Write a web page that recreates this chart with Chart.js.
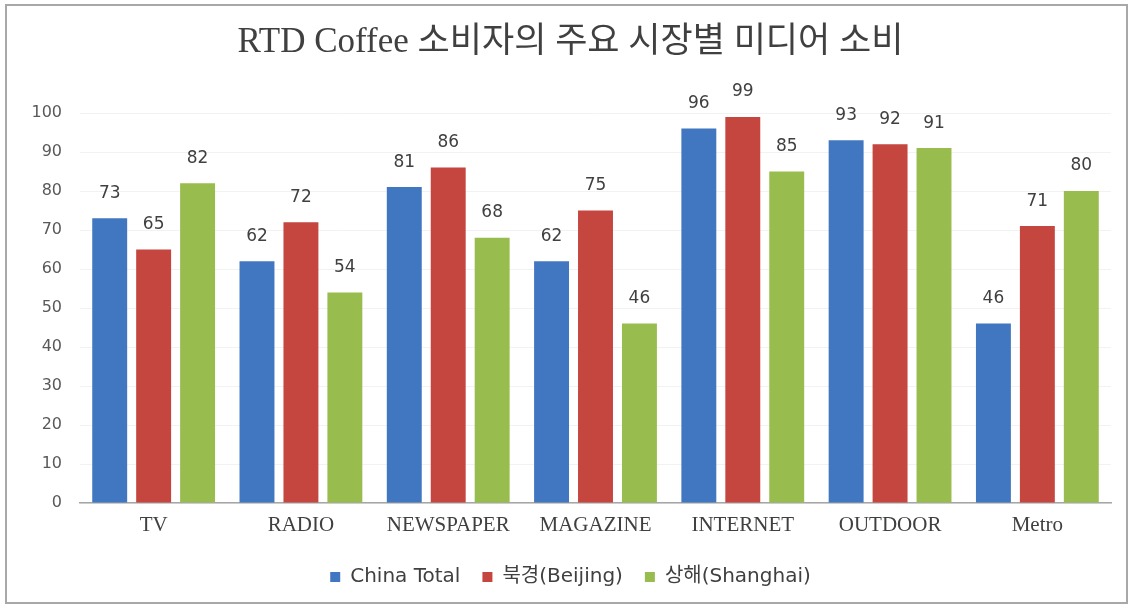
<!DOCTYPE html>
<html>
<head>
<meta charset="utf-8">
<script src="https://cdn.jsdelivr.net/npm/chart.js@4/dist/chart.umd.min.js"></script>
<style>
  html, body { margin: 0; padding: 0; background: #ffffff; }
  #wrap { width: 1133px; height: 606px; position: relative; }
</style>
</head>
<body>
<div id="wrap"><canvas id="c" width="1133" height="606"></canvas></div>
<script>
const categories = ['TV', 'RADIO', 'NEWSPAPER', 'MAGAZINE', 'INTERNET', 'OUTDOOR', 'Metro'];
const seriesNames = ['China Total', '북경(Beijing)', '상해(Shanghai)'];
const chinaTotal = [73, 62, 81, 62, 96, 93, 46];
const beijing = [65, 72, 86, 75, 99, 92, 71];
const shanghai = [82, 54, 68, 46, 85, 91, 80];
const yTicks = [0, 10, 20, 30, 40, 50, 60, 70, 80, 90, 100];
const colors = ['#4177c0', '#c5453f', '#98bd4e'];

const sansKR = '"DejaVu Sans", "Noto Sans CJK KR", sans-serif';
const serifFont = '"Liberation Serif", "DejaVu Serif", serif';
const titleFont = '"Liberation Serif", "Noto Sans CJK KR", serif';

// white page with a thin grey frame around the chart
const framePlugin = {
  id: 'frame',
  beforeDraw(chart) {
    const ctx = chart.ctx;
    ctx.save();
    ctx.fillStyle = '#ffffff';
    ctx.fillRect(0, 0, chart.width, chart.height);
    ctx.strokeStyle = '#a8a8a8';
    ctx.lineWidth = 2;
    ctx.strokeRect(6, 5, chart.width - 12, chart.height - 8);
    ctx.restore();
  }
};

// value labels above each bar
const valueLabels = {
  id: 'valueLabels',
  afterDatasetsDraw(chart) {
    const ctx = chart.ctx;
    ctx.save();
    ctx.font = '17px ' + sansKR;
    ctx.fillStyle = '#404040';
    ctx.textAlign = 'center';
    ctx.textBaseline = 'middle';
    chart.data.datasets.forEach((ds, i) => {
      chart.getDatasetMeta(i).data.forEach((bar, j) => {
        ctx.fillText(String(ds.data[j]), bar.x, bar.y - 25);
      });
    });
    ctx.restore();
  }
};

new Chart(document.getElementById('c'), {
  type: 'bar',
  data: {
    labels: categories,
    datasets: [
      { label: seriesNames[0], data: chinaTotal, backgroundColor: colors[0] },
      { label: seriesNames[1], data: beijing, backgroundColor: colors[1] },
      { label: seriesNames[2], data: shanghai, backgroundColor: colors[2] }
    ]
  },
  options: {
    responsive: false,
    animation: false,
    devicePixelRatio: 1,
    categoryPercentage: 0.895,
    barPercentage: 0.795,
    layout: { padding: { left: 30, right: 22, top: 0, bottom: 9 } },
    plugins: {
      title: {
        display: true,
        text: 'RTD Coffee 소비자의 주요 시장별 미디어 소비',
        font: { family: titleFont, size: 35, weight: 'normal' },
        color: '#404040',
        padding: { top: 22, bottom: 49 }
      },
      legend: {
        position: 'bottom',
        labels: {
          boxWidth: 10,
          boxHeight: 10,
          padding: 22,
          color: '#404040',
          font: { family: sansKR, size: 20 }
        }
      },
      tooltip: { enabled: false }
    },
    scales: {
      x: {
        grid: { display: false },
        border: { display: true, color: '#a6a6a6', width: 1.5 },
        afterFit(scale) { scale.height = 42; },
        ticks: {
          color: '#404040',
          font: { family: serifFont, size: 21 },
          padding: 2,
          maxRotation: 0
        }
      },
      y: {
        min: 0,
        max: 100,
        afterBuildTicks(scale) { scale.ticks = yTicks.map(v => ({ value: v })); },
        afterFit(scale) { scale.width = 50; },
        grid: { color: '#f2f2f2', drawTicks: false },
        border: { display: false },
        ticks: {
          color: '#595959',
          font: { family: sansKR, size: 16 },
          padding: 18
        }
      }
    }
  },
  plugins: [framePlugin, valueLabels]
});
</script>
</body>
</html>
